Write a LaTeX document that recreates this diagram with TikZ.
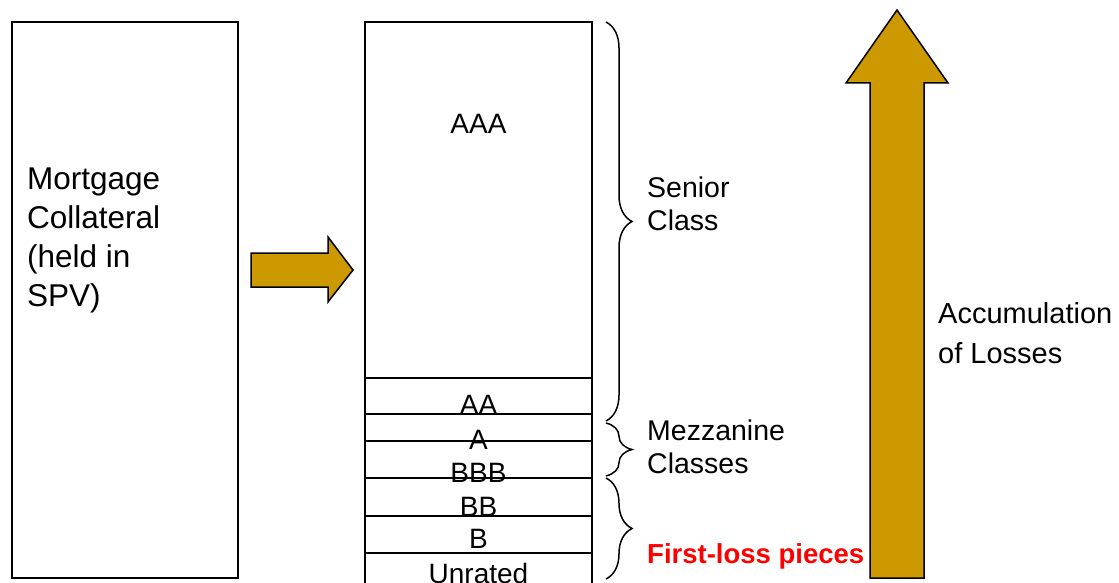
\documentclass[tikz,border=0pt]{standalone}
\usepackage{fontspec}
\setmainfont{Liberation Sans}
\usetikzlibrary{decorations.pathreplacing}
\definecolor{gold}{RGB}{204,153,0}

\tikzset{
  frame/.style={line width=1.5pt},
  blockarrow/.style={draw=black, fill=gold, line width=1.5pt, line join=miter},
  grade/.style={anchor=base, inner sep=0pt, font=\fontsize{28}{34}\selectfont},
  lbl/.style={anchor=base west, align=left, inner sep=0pt, font=\fontsize{28.5}{33}\selectfont},
  classbrace/.style={decorate, decoration={brace, amplitude=26pt}, line width=1.5pt},
}

\begin{document}
\begin{tikzpicture}[x=1pt, y=-1pt]
  \useasboundingbox (0,0) rectangle (1119,583);
  % collateral pool
  \draw[frame] (12,22) rectangle (238,578);
  \node[lbl, font=\fontsize{31.5}{39}\selectfont] (collateral) at (27,306) {Mortgage\\Collateral\\(held in\\SPV)};
  % transfer to the SPV tranches
  \draw[blockarrow] (251,253) -- (328,253) -- (328,237) -- (353,270) -- (328,302) -- (328,287) -- (251,287) -- cycle;
  % tranche stack
  \draw[frame] (365,583) -- (365,22) -- (592,22) -- (592,583);
  \foreach \y in {378,414,441,478,516,553} {
    \draw[frame] (365,\y) -- (592,\y);
  }
  \node[grade] (aaa) at (478.5,134) {AAA};
  \node[grade] (aa) at (478.5,414) {AA};
  \node[grade] (a) at (478.5,449) {A};
  \node[grade] (bbb) at (478.5,482) {BBB};
  \node[grade] (bb) at (478.5,516) {BB};
  \node[grade] (b) at (478.5,548) {B};
  \node[grade] (unrated) at (478.5,583) {Unrated};
  % class braces
  \draw[classbrace] (606,22) -- (606,421);
  \draw[classbrace] (606,423) -- (606,476);
  \draw[classbrace] (606,478) -- (606,579);
  \node[lbl] (senior) at (647,230) {Senior\\Class};
  \node[lbl] (mezz) at (647,473) {Mezzanine\\Classes};
  \node[lbl, text=red, font=\bfseries\fontsize{27.5}{33}\selectfont] (firstloss) at (647,563) {First-loss pieces};
  % losses build up from the bottom
  \draw[blockarrow] (870,578) -- (870,83) -- (846,83) -- (897,10) -- (948,83) -- (924,83) -- (924,578) -- cycle;
  \node[lbl, font=\fontsize{29}{40}\selectfont] (losses) at (938,363) {Accumulation\\of Losses};
\end{tikzpicture}
\end{document}
